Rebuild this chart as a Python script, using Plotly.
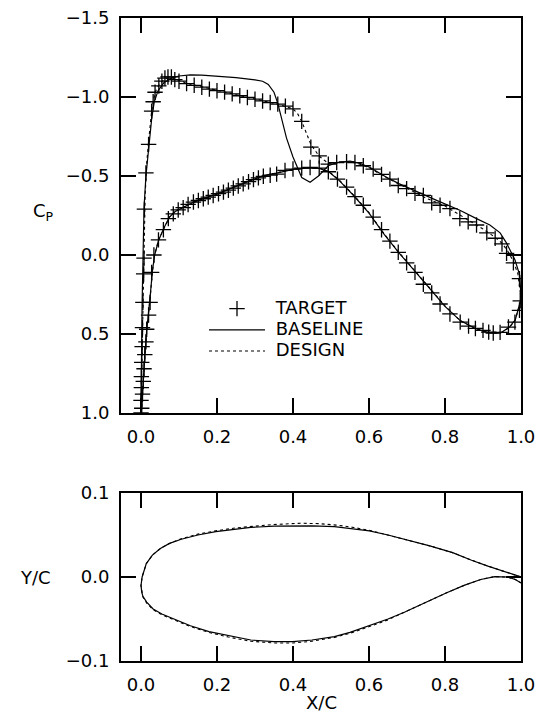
import plotly.graph_objects as go

# ---------------- Cp data ----------------
# Target (markers), upper surface from LE to TE
tgt_up_x = [0.000, 0.000, 0.001, 0.001, 0.002, 0.003, 0.004, 0.005, 0.007, 0.008, 0.009, 0.013,
            0.020, 0.028, 0.032, 0.037, 0.047, 0.055, 0.063, 0.071, 0.080, 0.089, 0.100, 0.120,
            0.140, 0.160, 0.180, 0.200, 0.220, 0.240, 0.260, 0.280, 0.300, 0.320, 0.340, 0.360,
            0.380, 0.400, 0.423, 0.447, 0.469, 0.493, 0.515, 0.541, 0.563, 0.585, 0.611, 0.633,
            0.655, 0.677, 0.699, 0.721, 0.743, 0.765, 0.787, 0.813, 0.839, 0.861, 0.883, 0.910,
            0.932, 0.950, 0.962, 0.980, 0.996, 0.998]
tgt_up_cp = [1.00, 0.92, 0.84, 0.77, 0.68, 0.58, 0.46, 0.30, 0.12, 0.02, -0.29, -0.52,
             -0.70, -0.91, -0.97, -1.03, -1.07, -1.10, -1.12, -1.127, -1.127, -1.11, -1.100, -1.085,
             -1.074, -1.062, -1.050, -1.040, -1.031, -1.020, -1.008, -0.997, -0.986, -0.975, -0.965, -0.955,
             -0.942, -0.925, -0.846, -0.683, -0.627, -0.575, -0.585, -0.590, -0.585, -0.565, -0.544, -0.510,
             -0.480, -0.440, -0.420, -0.390, -0.377, -0.330, -0.315, -0.294, -0.230, -0.210, -0.190, -0.140,
             -0.106, -0.070, -0.010, 0.050, 0.150, 0.290]
# Target, lower surface from LE to TE
tgt_lo_x = [0.002, 0.004, 0.006, 0.008, 0.010, 0.013, 0.015, 0.020, 0.024, 0.028, 0.034, 0.046,
            0.059, 0.072, 0.085, 0.098, 0.111, 0.124, 0.138, 0.151, 0.164, 0.177, 0.190, 0.204,
            0.217, 0.230, 0.243, 0.256, 0.269, 0.283, 0.296, 0.309, 0.322, 0.340, 0.357, 0.379,
            0.400, 0.423, 0.445, 0.469, 0.493, 0.517, 0.541, 0.563, 0.585, 0.611, 0.633, 0.655,
            0.677, 0.699, 0.721, 0.743, 0.765, 0.787, 0.813, 0.840, 0.862, 0.880, 0.900, 0.915,
            0.927, 0.945, 0.967, 0.984, 0.996]
tgt_lo_cp = [0.97, 0.88, 0.80, 0.72, 0.63, 0.55, 0.47, 0.38, 0.30, 0.11, 0.00, -0.096,
             -0.16, -0.23, -0.26, -0.285, -0.300, -0.320, -0.335, -0.345, -0.356, -0.366, -0.377, -0.388,
             -0.398, -0.410, -0.423, -0.437, -0.450, -0.464, -0.477, -0.488, -0.498, -0.505, -0.512, -0.535,
             -0.544, -0.550, -0.554, -0.550, -0.527, -0.480, -0.430, -0.370, -0.315, -0.240, -0.160, -0.088,
             -0.017, 0.050, 0.110, 0.185, 0.240, 0.310, 0.373, 0.425, 0.450, 0.465, 0.477, 0.488,
             0.494, 0.490, 0.456, 0.425, 0.350]

# Baseline (solid), upper surface LE -> TE
base_up_x = [0.000, 0.001, 0.002, 0.003, 0.005, 0.008, 0.013, 0.020, 0.028, 0.035, 0.045, 0.060,
             0.080, 0.100, 0.130, 0.160, 0.200, 0.250, 0.300, 0.320, 0.335, 0.350, 0.360, 0.370,
             0.383, 0.400, 0.423, 0.445, 0.467, 0.493, 0.515, 0.550, 0.576, 0.603, 0.647, 0.680,
             0.725, 0.778, 0.839, 0.883, 0.918, 0.945, 0.962, 0.984, 0.997, 1.000]
base_up_cp = [1.00, 0.70, 0.50, 0.30, 0.00, -0.30, -0.50, -0.68, -0.86, -0.97, -1.04, -1.09,
              -1.12, -1.133, -1.140, -1.138, -1.132, -1.122, -1.108, -1.100, -1.080, -1.030, -0.960, -0.860,
              -0.740, -0.620, -0.490, -0.460, -0.500, -0.565, -0.585, -0.595, -0.580, -0.554, -0.490, -0.450,
              -0.400, -0.346, -0.283, -0.230, -0.190, -0.140, -0.075, 0.030, 0.130, 0.280]
# Baseline, lower surface LE -> TE
base_lo_x = [0.002, 0.005, 0.010, 0.015, 0.020, 0.025, 0.030, 0.036, 0.046, 0.060, 0.075, 0.090,
             0.110, 0.140, 0.170, 0.200, 0.240, 0.280, 0.320, 0.360, 0.400, 0.440, 0.470, 0.495,
             0.520, 0.560, 0.600, 0.640, 0.680, 0.720, 0.760, 0.800, 0.840, 0.880, 0.910, 0.930,
             0.950, 0.970, 0.985, 1.000]
base_lo_cp = [0.97, 0.82, 0.64, 0.48, 0.37, 0.24, 0.10, 0.00, -0.09, -0.17, -0.24, -0.275,
              -0.300, -0.335, -0.362, -0.385, -0.425, -0.465, -0.500, -0.520, -0.542, -0.552, -0.548, -0.525,
              -0.475, -0.375, -0.265, -0.130, -0.010, 0.100, 0.215, 0.325, 0.415, 0.465, 0.488, 0.494,
              0.488, 0.455, 0.410, 0.280]

# Design (dotted), upper surface LE -> TE
des_up_x = [0.000, 0.001, 0.002, 0.004, 0.006, 0.008, 0.011, 0.015, 0.020, 0.028, 0.037, 0.047,
            0.060, 0.075, 0.090, 0.120, 0.160, 0.200, 0.240, 0.280, 0.320, 0.360, 0.400, 0.412,
            0.423, 0.447, 0.469, 0.493, 0.515, 0.545, 0.570, 0.600, 0.650, 0.700, 0.750, 0.800,
            0.850, 0.900, 0.930, 0.950, 0.965, 0.980, 0.992, 1.000]
des_up_cp = [1.00, 0.80, 0.62, 0.45, 0.25, 0.02, -0.38, -0.58, -0.72, -0.91, -1.03, -1.075,
             -1.110, -1.125, -1.115, -1.087, -1.063, -1.041, -1.021, -0.998, -0.976, -0.955, -0.925, -0.895,
             -0.846, -0.700, -0.625, -0.580, -0.583, -0.590, -0.580, -0.552, -0.485, -0.420, -0.360, -0.310,
             -0.235, -0.165, -0.115, -0.075, -0.025, 0.040, 0.120, 0.280]
# Design, lower surface LE -> TE
des_lo_x = [0.002, 0.005, 0.010, 0.015, 0.020, 0.025, 0.030, 0.036, 0.046, 0.060, 0.075, 0.090,
            0.110, 0.140, 0.170, 0.200, 0.240, 0.280, 0.320, 0.360, 0.400, 0.440, 0.470, 0.495,
            0.520, 0.560, 0.600, 0.640, 0.680, 0.720, 0.760, 0.800, 0.840, 0.880, 0.910, 0.930,
            0.950, 0.970, 0.985, 1.000]
des_lo_cp = [0.97, 0.83, 0.65, 0.49, 0.38, 0.25, 0.11, 0.00, -0.095, -0.17, -0.24, -0.278,
             -0.302, -0.336, -0.363, -0.386, -0.426, -0.466, -0.500, -0.522, -0.544, -0.553, -0.549, -0.527,
             -0.478, -0.378, -0.268, -0.133, -0.013, 0.098, 0.213, 0.322, 0.415, 0.465, 0.489, 0.495,
             0.490, 0.457, 0.412, 0.280]

# ---------------- Airfoil geometry ----------------
af_base_up_x = [0.000, 0.003, 0.014, 0.030, 0.051, 0.075, 0.106, 0.150, 0.197, 0.250, 0.289, 0.350,
                0.400, 0.450, 0.509, 0.550, 0.601, 0.650, 0.710, 0.760, 0.820, 0.870, 0.913, 0.950, 1.000]
af_base_up_y = [-0.010, 0.000, 0.016, 0.026, 0.034, 0.040, 0.045, 0.050, 0.054, 0.057, 0.059, 0.0605,
                0.061, 0.0608, 0.060, 0.058, 0.055, 0.050, 0.043, 0.037, 0.029, 0.020, 0.013, 0.007, 0.000]
af_base_lo_x = [0.000, 0.002, 0.005, 0.015, 0.032, 0.055, 0.087, 0.130, 0.179, 0.230, 0.289, 0.350,
                0.399, 0.450, 0.509, 0.550, 0.601, 0.650, 0.693, 0.750, 0.803, 0.850, 0.894, 0.931,
                0.964, 0.985, 1.000]
af_base_lo_y = [-0.010, -0.018, -0.023, -0.030, -0.038, -0.044, -0.050, -0.058, -0.065, -0.070, -0.075, -0.077,
                -0.077, -0.075, -0.071, -0.066, -0.058, -0.050, -0.042, -0.030, -0.019, -0.010, -0.003, 0.0005,
                0.000, -0.003, -0.007]
af_des_up_x = [0.000, 0.003, 0.014, 0.030, 0.051, 0.075, 0.106, 0.150, 0.197, 0.250, 0.289, 0.350,
               0.420, 0.470, 0.520, 0.560, 0.601, 0.650, 0.710, 0.760, 0.820, 0.870, 0.913, 0.950, 1.000]
af_des_up_y = [-0.010, 0.000, 0.016, 0.026, 0.034, 0.040, 0.0455, 0.051, 0.055, 0.0585, 0.0605, 0.0625,
               0.064, 0.0635, 0.0615, 0.0590, 0.0555, 0.0505, 0.043, 0.037, 0.029, 0.020, 0.013, 0.007, 0.000]
af_des_lo_x = [0.000, 0.002, 0.005, 0.015, 0.032, 0.055, 0.087, 0.130, 0.179, 0.230, 0.289, 0.350,
               0.399, 0.450, 0.509, 0.550, 0.601, 0.650, 0.693, 0.750, 0.803, 0.850, 0.894, 0.931,
               0.964, 0.985, 1.000]
af_des_lo_y = [-0.010, -0.018, -0.024, -0.031, -0.039, -0.045, -0.051, -0.059, -0.066, -0.0715, -0.0765, -0.0785,
               -0.0785, -0.0765, -0.072, -0.067, -0.059, -0.051, -0.042, -0.030, -0.019, -0.010, -0.003, 0.0005,
               0.000, -0.003, -0.007]

x_ticks = [0.0, 0.2, 0.4, 0.6, 0.8, 1.0]
cp_ticks = [-1.5, -1.0, -0.5, 0.0, 0.5, 1.0]
yc_ticks = [-0.1, 0.0, 0.1]
legend_names = ["TARGET", "BASELINE", "DESIGN"]

FONT = "DejaVu Sans"
BLACK = "black"


def loop(ux, uy, lx, ly):
    # TE -> LE along upper surface, then LE -> TE along lower surface
    return list(reversed(ux)) + list(lx), list(reversed(uy)) + list(ly)


def lname(s):
    return "<span style='font-size:18px'>&nbsp;" + s + "</span>"


fig = go.Figure()

tx, ty = tgt_up_x + [None] + tgt_lo_x, tgt_up_cp + [None] + tgt_lo_cp
fig.add_trace(go.Scatter(x=tx, y=ty, mode="markers", name=lname(legend_names[0]),
                         marker=dict(symbol="cross-thin-open", size=11, color=BLACK,
                                     line=dict(color=BLACK, width=1.3)),
                         xaxis="x", yaxis="y"))
bx, by = loop(base_up_x, base_up_cp, base_lo_x, base_lo_cp)
fig.add_trace(go.Scatter(x=bx, y=by, mode="lines", name=lname(legend_names[1]),
                         line=dict(color=BLACK, width=1.2), xaxis="x", yaxis="y"))
dx, dy = loop(des_up_x, des_up_cp, des_lo_x, des_lo_cp)
fig.add_trace(go.Scatter(x=dx, y=dy, mode="lines", name=lname(legend_names[2]),
                         line=dict(color=BLACK, width=1.1, dash="dot"), xaxis="x", yaxis="y"))

ax_, ay_ = loop(af_base_up_x, af_base_up_y, af_base_lo_x, af_base_lo_y)
fig.add_trace(go.Scatter(x=ax_, y=ay_, mode="lines", showlegend=False,
                         line=dict(color=BLACK, width=1.2), xaxis="x2", yaxis="y2"))
ax2, ay2 = loop(af_des_up_x, af_des_up_y, af_des_lo_x, af_des_lo_y)
fig.add_trace(go.Scatter(x=ax2, y=ay2, mode="lines", showlegend=False,
                         line=dict(color=BLACK, width=1.1, dash="dot"), xaxis="x2", yaxis="y2"))

axis_common = dict(showline=True, linecolor=BLACK, linewidth=2, mirror="ticks",
                   ticks="inside", ticklen=15, tickwidth=1.5, tickcolor=BLACK,
                   showgrid=False, zeroline=False, tickformat=".1f", automargin=False,
                   ticklabeloverflow="allow",
                   tickfont=dict(family=FONT, size=18, color=BLACK),
                   ticklabelstandoff=6)

# page has an 8px body margin; figure sized to fit the 546x721 window
OFF = 8
W, H = 546 - 2 * OFF, 721 - 2 * OFF
PL, PR, PT, PB = 121, 521, 18, 661          # desired plot-area edges in page pixels
L, R, T, B = PL - OFF, OFF + W - PR, PT - OFF, OFF + H - PB
ph = PB - PT
pw = PR - PL


def py(p):
    return (PB - p) / ph


def px(p):
    return (p - PL) / pw


fig.update_layout(
    width=W, height=H,
    margin=dict(l=L, r=R, t=T, b=B, autoexpand=False),
    paper_bgcolor="white", plot_bgcolor="white",
    font=dict(family=FONT, size=18, color=BLACK),
    xaxis=dict(domain=[0, 1], range=[-0.0526, 1.0], tickvals=x_ticks, anchor="y", **axis_common),
    yaxis=dict(domain=[py(413), 1], range=[1.0, -1.5], tickvals=cp_ticks, anchor="x", **axis_common),
    xaxis2=dict(domain=[0, 1], range=[-0.0526, 1.0], tickvals=x_ticks, anchor="y2", **axis_common),
    yaxis2=dict(domain=[0, py(493)], range=[-0.1, 0.1], tickvals=yc_ticks, anchor="x2", **axis_common),
    legend=dict(x=px(204), y=py(293), xanchor="left", yanchor="top",
                bgcolor="rgba(0,0,0,0)", borderwidth=0, tracegroupgap=0,
                font=dict(family=FONT, size=14, color=BLACK), itemwidth=56),
    showlegend=True,
    annotations=[
        dict(text="C<sub>P</sub>", xref="paper", yref="y", x=px(43), y=-0.27,
             xanchor="center", yanchor="middle", showarrow=False,
             font=dict(family=FONT, size=18, color=BLACK)),
        dict(text="Y/C", xref="paper", yref="y2", x=px(35), y=0.0,
             xanchor="center", yanchor="middle", showarrow=False,
             font=dict(family=FONT, size=18, color=BLACK)),
        dict(text="X/C", xref="paper", yref="paper", x=0.5, y=py(702),
             xanchor="center", yanchor="middle", showarrow=False,
             font=dict(family=FONT, size=18, color=BLACK)),
    ],
)

fig.write_html("out.html")
